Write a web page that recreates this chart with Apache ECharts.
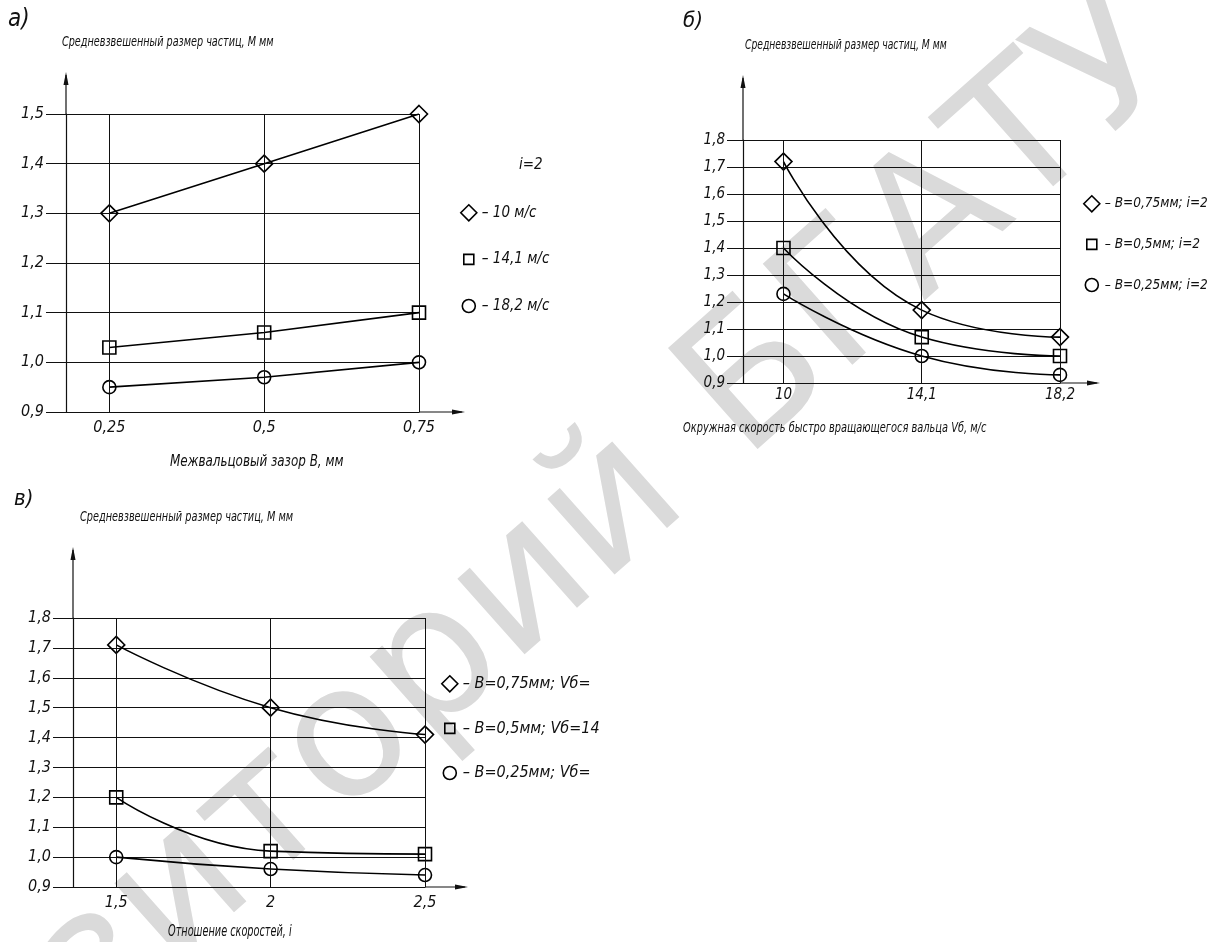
<!DOCTYPE html>
<html><head><meta charset="utf-8">
<script src="https://cdn.jsdelivr.net/npm/echarts@6/dist/echarts.min.js"></script>
<style>html,body{margin:0;padding:0;background:#fff}#c{width:1209px;height:942px}</style>
</head><body><div id="c"></div>
<script>
// ---- data ----
const xA = [0.25, 0.5, 0.75];            // Межвальцовый зазор B, мм
const a_10  = [1.30, 1.40, 1.50];
const a_141 = [1.03, 1.06, 1.10];
const a_182 = [0.95, 0.97, 1.00];
const namesA = ['10 м/с', '14,1 м/с', '18,2 м/с'];

const xB = [10, 14.1, 18.2];             // Окружная скорость Vб, м/с
const b_075 = [1.72, 1.17, 1.07];
const b_05  = [1.40, 1.07, 1.00];
const b_025 = [1.23, 1.00, 0.93];
const namesB = ['B=0,75мм; i=2', 'B=0,5мм; i=2', 'B=0,25мм; i=2'];

const xV = [1.5, 2, 2.5];                // Отношение скоростей, i
const v_075 = [1.71, 1.50, 1.41];
const v_05  = [1.20, 1.02, 1.01];
const v_025 = [1.00, 0.96, 0.94];
const namesV = ['B=0,75мм; Vб=', 'B=0,5мм; Vб=14', 'B=0,25мм; Vб='];

const yTicksA  = [0.9, 1.0, 1.1, 1.2, 1.3, 1.4, 1.5];
const yTicksBV = [0.9, 1.0, 1.1, 1.2, 1.3, 1.4, 1.5, 1.6, 1.7, 1.8];
const xMinA = 0.18, xMinB = 8.8, xMinV = 1.36;

// ---- styles ----
const F = "'Liberation Sans Narrow','DejaVu Sans Condensed',sans-serif";
const INK = '#111';
const G = [
  {left: 66,  top: 114, width: 353, height: 298},
  {left: 743, top: 140, width: 317, height: 243},
  {left: 73,  top: 618, width: 352, height: 269}
];
const EXT = [ {up: 39, right: 43}, {up: 62, right: 37}, {up: 68, right: 40} ];
const ICON_RECT = 'path://M0,0M16,16M3,3L13,3L13,13L3,13Z';
const ICON_CIRC = 'path://M0,0M16,16M14.5,8A6.5,6.5,0,1,1,1.5,8A6.5,6.5,0,1,1,14.5,8Z';

const fmtX = v => String(v).replace('.', ',');
const fmtY = v => v.toFixed(1).replace('.', ',');

function xAx(i, vals, min, fs, margin) {
  return {
    type: 'value', gridIndex: i, min: min, max: vals[vals.length - 1],
    axisLine: {show: true, lineStyle: {color: INK, width: 1.2}},
    axisTick: {show: false}, splitLine: {show: false},
    axisLabel: {customValues: vals, formatter: fmtX, color: INK, fontFamily: F,
      fontStyle: 'italic', fontSize: fs, margin: margin}
  };
}
function yAx(i, ticks, tickLen, fs) {
  return {
    type: 'value', gridIndex: i, min: ticks[0], max: ticks[ticks.length - 1], interval: 0.1,
    axisLine: {show: true, lineStyle: {color: INK, width: 1.2}},
    axisTick: {show: true, length: tickLen, lineStyle: {color: INK, width: 1}},
    splitLine: {show: true, lineStyle: {color: INK, width: 1}},
    axisLabel: {formatter: fmtY, color: INK, fontFamily: F, fontStyle: 'italic',
      fontSize: fs, margin: tickLen + 2}
  };
}
function ser(i, name, xs, ys, symbol, size, smooth, withGrid) {
  const s = {
    type: 'line', name: name, xAxisIndex: i, yAxisIndex: i,
    data: xs.map((x, k) => [x, ys[k]]),
    smooth: smooth, symbol: symbol, symbolSize: size, showSymbol: true,
    lineStyle: {color: '#000', width: 1.6},
    itemStyle: {color: 'rgba(0,0,0,0)', borderColor: '#000', borderWidth: 1.6},
    emphasis: {disabled: true}, animation: false, z: 3
  };
  if (withGrid) {
    s.markLine = {silent: true, symbol: 'none', label: {show: false},
      lineStyle: {color: INK, width: 1, type: 'solid'}, animation: false,
      data: xs.map(v => ({xAxis: v}))};
  }
  return s;
}
function legendFor(names, left, top, gap, fs) {
  const icons = ['diamond', ICON_RECT, ICON_CIRC];
  return {
    orient: 'vertical', left: left, top: top, itemGap: gap, itemWidth: 16, itemHeight: 16,
    selectedMode: false, formatter: '– {name}',
    data: names.map((n, k) => ({name: n, icon: icons[k]})),
    itemStyle: {color: 'rgba(0,0,0,0)', borderColor: '#000', borderWidth: 1.6},
    textStyle: {color: INK, fontFamily: F, fontStyle: 'italic', fontSize: fs}
  };
}
function txt(x, y, s, fs, sx) {
  return {type: 'text', x: x, y: y, z: 10, silent: true, scaleX: sx || 1,
    style: {text: s, fill: INK, font: 'italic ' + fs + 'px ' + F, textVerticalAlign: 'middle'}};
}
function axisArrows(g, e) {
  const out = [];
  const x0 = g.left, yTop = g.top, yBot = g.top + g.height, xR = g.left + g.width;
  out.push({type: 'line', silent: true, z: 5, shape: {x1: x0, y1: yTop, x2: x0, y2: yTop - e.up},
    style: {stroke: INK, lineWidth: 1.2}});
  out.push({type: 'polygon', silent: true, z: 5,
    shape: {points: [[x0, yTop - e.up - 3], [x0 - 2.5, yTop - e.up + 10], [x0 + 2.5, yTop - e.up + 10]]},
    style: {fill: INK}});
  out.push({type: 'line', silent: true, z: 5, shape: {x1: xR, y1: yBot, x2: xR + e.right, y2: yBot},
    style: {stroke: INK, lineWidth: 1.2}});
  out.push({type: 'polygon', silent: true, z: 5,
    shape: {points: [[xR + e.right + 3, yBot], [xR + e.right - 10, yBot - 2.5], [xR + e.right - 10, yBot + 2.5]]},
    style: {fill: INK}});
  return out;
}

const WM = '#dadada';
const WMROT = 0.726;
const graphics = [
  {type: 'text', x: 660, y: 470, rotation: WMROT, z: -5, silent: true,
    style: {text: 'Репозиторий', fill: WM, font: '185px "DejaVu Sans"', textAlign: 'right', textVerticalAlign: 'middle'}},
  {type: 'text', x: 712, y: 425, rotation: WMROT, z: -5, silent: true,
    style: {text: 'БГАТУ', fill: WM, font: '185px "DejaVu Sans"', textAlign: 'left', textVerticalAlign: 'middle'}},
  txt(8, 20, 'а)', 24),
  txt(62, 42, 'Средневзвешенный размер частиц, М мм', 14.5, 0.74),
  txt(683, 21, 'б)', 22),
  txt(745, 45, 'Средневзвешенный размер частиц, М мм', 14, 0.73),
  txt(14, 499, 'в)', 22),
  txt(80, 517, 'Средневзвешенный размер частиц, М мм', 14.5, 0.745),
  txt(519, 165, 'i=2', 15),
  txt(170, 462, 'Межвальцовый зазор B, мм', 16, 0.83),
  txt(683, 428, 'Окружная скорость быстро вращающегося вальца Vб, м/с', 14, 0.78),
  txt(168, 932, 'Отношение скоростей, i', 15, 0.72)
].concat(axisArrows(G[0], EXT[0]), axisArrows(G[1], EXT[1]), axisArrows(G[2], EXT[2]));

const option = {
  backgroundColor: '#fff',
  animation: false,
  grid: G.map(g => Object.assign({containLabel: false}, g)),
  xAxis: [xAx(0, xA, xMinA, 16, 8), xAx(1, xB, xMinB, 15, 5), xAx(2, xV, xMinV, 16, 8)],
  yAxis: [yAx(0, yTicksA, 20, 16), yAx(1, yTicksBV, 16, 15), yAx(2, yTicksBV, 20, 16)],
  legend: [
    legendFor(namesA, 455, 199, 29, 15),
    legendFor(namesB, 1078, 190, 23, 13.5),
    legendFor(namesV, 436, 670, 27, 16)
  ],
  series: [
    ser(0, namesA[0], xA, a_10, 'diamond', 17, false, true),
    ser(0, namesA[1], xA, a_141, 'rect', 13, false, false),
    ser(0, namesA[2], xA, a_182, 'circle', 13, false, false),
    ser(1, namesB[0], xB, b_075, 'diamond', 17, 0.5, true),
    ser(1, namesB[1], xB, b_05, 'rect', 13, 0.5, false),
    ser(1, namesB[2], xB, b_025, 'circle', 13, 0.5, false),
    ser(2, namesV[0], xV, v_075, 'diamond', 17, 0.5, true),
    ser(2, namesV[1], xV, v_05, 'rect', 13, 0.5, false),
    ser(2, namesV[2], xV, v_025, 'circle', 13, 0.5, false)
  ],
  graphic: {elements: graphics}
};
const chart = echarts.init(document.getElementById('c'), null, {renderer: 'canvas'});
chart.setOption(option);
</script></body></html>
